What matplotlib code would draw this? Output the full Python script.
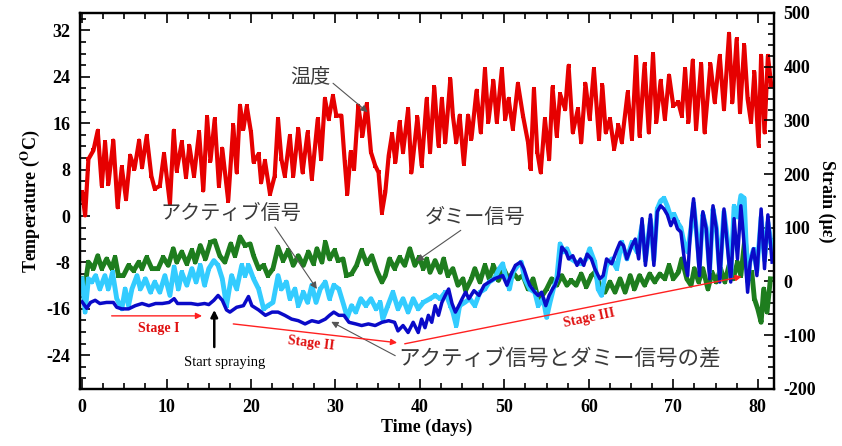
import matplotlib
matplotlib.use("Agg")
import matplotlib.pyplot as plt
from matplotlib.ticker import MultipleLocator

plt.rcParams['mathtext.fontset'] = 'stix'
plt.rcParams['axes.unicode_minus'] = False

# ---------------- data ----------------
temp_day = [0.0, 0.36, 0.75, 1.34, 1.85, 2.33, 2.72, 3.11, 3.7, 4.2, 4.7, 5.2, 5.7, 6.2, 6.75, 7.1, 7.65, 8.2, 8.6, 9.2,
            9.7, 10.4, 10.85, 11.2, 11.8, 12.3, 12.7, 13.25, 13.85, 14.35, 14.8, 15.2, 15.7, 16.2, 16.6, 17.3, 17.9, 18.3,
            18.7, 19.1, 19.5, 20.0, 20.3, 20.9, 21.2, 21.65, 22.25, 22.8, 23.2, 23.6, 24.0, 24.6, 25.0, 25.6, 26.1, 26.7,
            27.2, 27.9, 28.3, 28.75, 29.2, 29.7, 30.1, 30.7, 31.1, 31.4, 31.8, 32.2, 32.7, 33.2, 33.7, 34.2, 34.7, 35.1,
            35.5, 35.9, 36.3, 36.7, 37.1, 37.6, 38.0, 38.6, 39.0, 39.7, 40.2, 40.8, 41.2, 41.7, 42.2, 42.6, 43.0, 43.6,
            43.9, 44.3, 44.7, 45.2, 45.7, 46.1, 46.7, 47.2, 47.7, 48.1, 48.7, 49.1, 49.7, 50.1, 50.5, 51.0, 51.6, 52.2,
            52.8, 53.1, 53.5, 53.9, 54.3, 54.8, 55.3, 55.7, 56.2, 56.6, 57.2, 57.6, 58.1, 58.7, 59.1, 59.6, 60.1, 60.6,
            61.2, 61.6, 62.0, 62.5, 63.0, 63.5, 63.9, 64.6, 65.1, 65.6, 66.0, 66.6, 67.1, 67.6, 68.0, 68.5, 69.0, 69.5,
            70.0, 70.6, 71.0, 71.4, 71.8, 72.3, 72.7, 73.3, 73.7, 74.4, 74.9, 75.5, 76.0, 76.6, 77.0, 77.5, 77.9, 78.4,
            78.8, 79.2, 79.6, 80.1, 80.4, 80.8, 81.2, 81.6]
temp_c = [4.1, 0.1, 9.8, 11.3, 14.7, 5.2, 12.7, 5.5, 13.0, 1.5, 8.4, 2.9, 10.4, 8.1, 13.0, 8.4, 13.8, 6.9, 4.7, 5.2,
          10.7, 2.1, 14.7, 7.8, 12.7, 6.7, 12.1, 6.9, 14.4, 4.4, 17.0, 9.5, 16.7, 5.2, 11.6, 2.6, 15.6, 7.5,
          19.0, 15.0, 18.9, 14.4, 9.3, 10.7, 5.8, 9.5, 3.8, 6.9, 16.7, 9.8, 6.9, 13.8, 6.9, 15.0, 7.5, 14.4,
          6.4, 16.7, 9.8, 20.2, 16.7, 20.7, 17.3, 17.3, 9.3, 3.8, 11.0, 8.1, 19.0, 13.8, 19.3, 11.0, 8.7, 7.5,
          0.6, 4.1, 10.4, 14.1, 9.3, 16.2, 11.0, 18.4, 7.5, 17.0, 8.7, 20.2, 11.0, 22.2, 12.1, 20.2, 12.7, 23.6,
          17.3, 12.7, 17.3, 9.0, 17.3, 13.3, 21.6, 14.4, 25.3, 16.2, 23.3, 16.2, 25.3, 16.7, 20.2, 15.0, 22.8, 17.3,
          12.7, 8.1, 21.9, 11.0, 7.5, 16.7, 9.8, 22.2, 13.8, 21.0, 18.4, 25.9, 14.4, 18.4, 12.7, 22.8, 16.7, 25.3,
          13.3, 22.5, 14.4, 16.7, 11.6, 15.6, 12.7, 21.3, 13.3, 27.4, 13.8, 26.2, 14.4, 27.9, 16.2, 23.3, 16.7, 24.2,
          19.0, 19.6, 17.3, 25.3, 16.2, 26.8, 15.0, 26.2, 14.4, 26.2, 19.6, 27.6, 18.4, 31.4, 19.6, 30.5, 17.9, 29.4,
          20.2, 16.2, 24.8, 12.1, 27.6, 14.4, 27.6, 22.5]

dummy_day = [0.0, 0.36, 0.75, 1.34, 1.85, 2.33, 2.9, 3.5, 3.9, 4.3, 4.9, 5.5, 6.1, 6.7, 7.1, 7.65, 8.25, 9.0, 9.6, 10.2,
             10.8, 11.2, 11.8, 12.4, 13.0, 13.4, 14.0, 14.6, 15.2, 15.7, 16.3, 16.9, 17.6, 18.1, 18.7, 19.3, 19.9, 20.3,
             20.9, 21.5, 22.0, 22.6, 23.2, 23.8, 24.4, 25.0, 25.6, 26.2, 26.8, 27.4, 27.8, 28.4, 28.8, 29.3, 29.9, 30.3,
             30.9, 31.3, 31.9, 32.5, 33.1, 33.7, 34.3, 34.9, 35.5, 35.9, 36.4, 37.0, 37.6, 38.2, 38.8, 39.4, 39.9, 40.4,
             40.8, 41.2, 41.8, 42.4, 42.8, 43.3, 43.9, 44.5, 45.1, 45.4, 46.1, 46.5, 47.1, 47.7, 48.2, 48.7, 49.3, 49.9,
             50.5, 51.0, 51.6, 52.2, 52.8, 53.4, 54.0, 54.5, 55.0, 55.6, 56.2, 56.8, 57.4, 57.9, 58.5, 59.1, 59.7, 60.3,
             60.7, 61.3, 61.9, 62.5, 63.1, 63.7, 64.3, 64.9, 65.4, 66.0, 66.6, 67.2, 67.8, 68.4, 69.0, 69.5, 70.0, 70.6,
             71.0, 71.6, 72.1, 72.5, 73.0, 73.5, 74.1, 74.6, 75.1, 75.6, 76.1, 76.6, 77.1, 77.6, 78.0, 78.5, 78.9, 79.3,
             79.6, 80.0, 80.4, 80.7, 81.1, 81.5]
dummy_strain = [5, -7, 36, 24, 48, 24, 42, 24, 45, 11, 11, 30, 20, 36, 24, 45, 24, 24, 45, 30,
                61, 36, 55, 33, 58, 36, 67, 42, 73, 76, 48, 36, 70, 48, 83, 67, 70, 48,
                24, 30, 11, 24, 64, 39, 58, 30, 48, 30, 55, 33, 61, 36, 73, 42, 58, 39,
                42, 11, 14, 30, 58, 33, 48, 20, -1, 11, 42, 24, 45, 30, 61, 30, 45, 24,
                42, 17, 39, 17, 42, 11, 24, -7, 5, -17, 5, 24, -1, 30, 5, 30, 2, 24,
                5, 17, 5, 11, -14, 5, -32, -26, -14, 5, -7, 11, -7, 2, -7, 14, -10, 11,
                17, -7, -20, -1, -20, 5, -20, 11, -14, 11, -7, 14, -1, 14, 5, 30, 5, 17,
                42, 5, -7, 24, -1, 24, -14, 17, -1, 24, -1, 30, 5, 36, 11, 83, 5, 17,
                -32, -51, -76, -14, -57, 5]

active_day = [0.0, 0.36, 0.75, 1.15, 1.6, 2.1, 2.7, 3.1, 3.6, 4.1, 4.7, 5.1, 5.5, 5.9, 6.5, 6.9, 7.5, 8.1, 8.6, 9.2,
              9.8, 10.4, 10.9, 11.4, 11.8, 12.4, 13.0, 13.5, 14.0, 14.5, 15.0, 15.6, 16.1, 16.6, 17.1, 17.7, 18.3, 18.9,
              19.3, 19.7, 20.3, 20.9, 21.5, 22.0, 22.6, 23.2, 23.6, 24.2, 24.6, 25.2, 25.6, 26.2, 26.7, 27.2, 27.7, 28.2,
              28.8, 29.3, 29.8, 30.4, 31.0, 31.4, 31.9, 32.4, 33.0, 33.6, 34.2, 34.8, 35.3, 35.6, 36.2, 36.8, 37.4, 38.0,
              38.6, 39.2, 39.8, 40.4, 41.2, 41.8, 42.4, 43.0, 43.6, 43.9, 44.3, 44.7, 45.3, 45.9, 46.5, 47.1, 47.7, 48.2,
              48.8, 49.4, 49.8, 50.2, 50.6, 51.0, 51.6, 52.0, 52.4, 53.0, 53.6, 54.0, 54.6, 55.0, 55.4, 55.8, 56.2, 56.6,
              57.0, 57.4, 57.9, 58.5, 59.1, 59.7, 60.1, 60.7, 61.1, 61.5, 62.1, 62.7, 63.3, 63.9, 64.5, 65.1, 65.7, 66.3,
              66.7, 67.3, 67.7, 68.1, 68.5, 68.9, 69.3, 69.7, 70.1, 70.5, 70.9, 71.3, 71.7, 72.1, 72.4, 72.7, 73.1, 73.5,
              73.9, 74.3, 74.7, 75.1, 75.5, 76.0, 76.4, 76.8, 77.2, 77.6, 78.0, 78.4, 78.8, 79.1, 79.5, 79.9, 80.4, 80.8,
              81.2, 81.7]
active_strain = [5, -57, 5, -1, 11, -14, 11, -14, 17, -32, -51, -14, -45, -14, 11, -14, 5, -20, -1, -20,
                 11, -26, 27, -14, 17, -7, 24, -1, 30, -7, 24, 39, 30, 5, -45, 11, -14, 30,
                 11, 30, 5, -14, -51, -45, -39, 11, -14, -1, -32, -14, -45, -20, -39, -7, -39, -14,
                 -1, -32, -7, -14, -45, -67, -45, -57, -32, -45, -32, -51, -39, -70, -45, -20, -51, -32,
                 -57, -32, -51, -39, -32, -26, -32, -20, -45, -57, -82, -45, -39, -32, -45, -20, -14, -1,
                 5, 24, 33, 5, -14, 17, 30, 36, 5, -14, -20, -45, -32, -67, -39, -14, 5, 70,
                 55, 61, 42, 36, 33, 42, 61, 36, -14, -26, 30, 42, 24, 73, 42, 73, 55, 105,
                 40, 115, 40, 135, 150, 155, 140, 120, 125, 110, 100, 70, 55, 100, 145, 100, 30, 125,
                 100, 20, 135, 100, 15, 130, 80, 10, 140, 120, 160, 155, 0, 40, 60, 20, 120, 40,
                 110, 60]

diff_day = [0.0, 0.55, 1.0, 1.55, 2.1, 2.9, 3.7, 4.1, 4.7, 5.5, 6.3, 7.1, 7.9, 8.7, 9.5, 10.3, 10.9, 11.3, 12.1, 12.9,
            13.7, 14.5, 15.0, 15.6, 16.1, 16.6, 17.1, 17.5, 18.3, 19.1, 19.7, 20.1, 20.9, 21.7, 22.5, 23.2, 24.0, 24.8,
            25.6, 26.4, 27.2, 28.0, 28.8, 29.3, 29.8, 30.4, 31.0, 31.6, 32.4, 33.1, 33.9, 34.7, 35.5, 36.3, 37.0, 37.4,
            38.0, 38.6, 39.2, 39.8, 40.2, 40.6, 41.0, 41.4, 41.8, 42.2, 42.6, 43.0, 43.4, 43.8, 44.2, 44.6, 45.0, 45.4,
            45.8, 46.4, 47.0, 47.6, 48.2, 48.8, 49.3, 49.8, 50.3, 50.9, 51.3, 51.9, 52.3, 52.7, 53.0, 53.6, 54.0, 54.4,
            54.9, 55.3, 55.7, 56.0, 56.4, 56.8, 57.3, 57.6, 58.1, 58.6, 59.0, 59.4, 59.8, 60.3, 60.7, 61.3, 61.7, 62.1,
            62.7, 63.3, 63.7, 64.1, 64.5, 65.1, 65.5, 65.9, 66.3, 66.7, 67.3, 67.7, 68.1, 68.5, 68.9, 69.3, 69.7, 70.1,
            70.5, 70.9, 71.3, 71.7, 72.1, 72.4, 72.7, 73.1, 73.5, 73.9, 74.3, 74.7, 75.1, 75.5, 76.0, 76.4, 76.8, 77.2,
            77.6, 78.0, 78.4, 78.8, 79.1, 79.5, 79.9, 80.4, 80.8, 81.2, 81.7]
diff_strain = [-38, -50, -39, -35, -41, -39, -39, -48, -51, -51, -45, -41, -45, -41, -41, -39, -32, -41, -41, -41,
               -43, -41, -43, -35, -26, -35, -53, -57, -48, -45, -28, -45, -53, -63, -57, -57, -63, -70,
               -73, -79, -73, -76, -70, -63, -57, -63, -63, -76, -79, -82, -79, -82, -76, -73, -76, -92,
               -82, -95, -76, -95, -70, -86, -63, -76, -45, -63, -39, -26, -14, -41, -57, -45, -32, -20,
               -32, -17, -26, -7, -1, 5, 8, 11, -7, 17, 30, 36, 24, 5, -7, -20, -26, -20,
               -45, -26, -14, -7, 11, 64, 55, 42, 48, 30, 42, 30, 51, 42, 24, 5, 11, 42,
               33, 58, 73, 67, 42, 67, 79, 42, 117, 30, 124, 30, 130, 141, 135, 124, 104, 117,
               98, 92, 42, 11, 110, 154, 98, 11, 130, 98, 5, 141, 98, -1, 135, 67, -1, 117,
               42, 141, 67, -20, 36, 61, 11, 135, 24, 124, 36]

x_ticks = [0, 10, 20, 30, 40, 50, 60, 70, 80]
temp_ticks = [-24, -16, -8, 0, 8, 16, 24, 32]
strain_ticks = [-200, -100, 0, 100, 200, 300, 400, 500]

# ---------------- figure ----------------
fig = plt.figure(figsize=(8.42, 4.46), dpi=100)
ax = fig.add_axes([0.095, 0.128, 0.824, 0.843])
ax2 = ax.twinx()

RED = '#e60000'
GREEN = '#1e7d1e'
CYAN = '#33ccff'
BLUE = '#0a0ac8'

ax.plot(temp_day, temp_c, color=RED, lw=3.0, marker='s', ms=2.5, mew=0)
ax2.plot(dummy_day, dummy_strain, color=GREEN, lw=3.5, marker='s', ms=2.5, mew=0)
ax2.plot(active_day, active_strain, color=CYAN, lw=3.5, marker='s', ms=2.5, mew=0)
ax2.plot(diff_day, diff_strain, color=BLUE, lw=2.5, marker='s', ms=2, mew=0)

ax.set_xlim(-0.25, 81.9)
ax.set_ylim(-29.8, 35.0)
ax2.set_ylim(-200, 500)

serif_b = dict(family='Liberation Serif', weight='bold')

ax.set_xticks(x_ticks)
ax.set_yticks(temp_ticks)
ax2.set_yticks(strain_ticks)
ax.xaxis.set_minor_locator(MultipleLocator(2.5))
ax.yaxis.set_minor_locator(MultipleLocator(2))
ax2.yaxis.set_minor_locator(MultipleLocator(20))

ax.tick_params(which='both', direction='in', top=True, right=False, width=1.2)
ax.tick_params(which='major', length=7, pad=7)
ax.tick_params(which='minor', length=4)
ax2.tick_params(which='both', direction='in', width=1.2)
ax2.tick_params(which='major', length=7, pad=7)
ax2.tick_params(which='minor', length=4)

for lab in ax.get_xticklabels() + ax.get_yticklabels() + ax2.get_yticklabels():
    lab.set_fontfamily('Liberation Serif')
    lab.set_fontweight('bold')
    lab.set_fontsize(13)

for a in (ax, ax2):
    for s in a.spines.values():
        s.set_linewidth(1.6)

ax.set_xlabel('Time (days)', fontsize=13, labelpad=2, **serif_b)
ax.set_ylabel(r'Temperature ($\mathbf{^{O}}$C)', fontsize=13, labelpad=3, **serif_b)
ax2.set_ylabel('Strain (με)', fontsize=13, rotation=270, labelpad=14, **serif_b)

# ---------------- annotations ----------------
jp = ['Noto Sans CJK JP', 'DejaVu Sans']
jcol = '#3a3a3a'
arr_gray = dict(arrowstyle='-|>', color='#555555', lw=0.8, mutation_scale=10, shrinkA=0, shrinkB=0)

ax.annotate('温度', xy=(33.8, 17.9), xytext=(27.0, 24.0), fontsize=14.5, family=jp, color=jcol,
            ha='center', va='center', arrowprops=dict(arr_gray, relpos=(1.0, 0.3)))
ax2.annotate('アクティブ信号', xy=(27.8, -14), xytext=(17.6, 126), fontsize=14.5, family=jp, color=jcol,
             ha='center', va='center', arrowprops=dict(arr_gray, relpos=(0.8, 0.0)))
ax2.annotate('ダミー信号', xy=(39.6, 38), xytext=(46.5, 120), fontsize=14.5, family=jp, color=jcol,
             ha='center', va='center', arrowprops=dict(arr_gray, relpos=(0.4, 0.0)))
ax2.annotate('アクティブ信号とダミー信号の差', xy=(29.5, -75), xytext=(56.5, -145), fontsize=15.5, family=jp,
             color=jcol, ha='center', va='center', arrowprops=dict(arr_gray, relpos=(0.0, 0.6)))

red_arr = dict(arrowstyle='-|>', color='#ff2020', lw=1.0, mutation_scale=9, shrinkA=0, shrinkB=0)
ax2.annotate('', xy=(14.2, -64), xytext=(3.5, -64), arrowprops=red_arr)
ax2.text(9.1, -88, 'Stage I', color='#e01010', fontsize=10, ha='center', va='center', **serif_b)
ax2.annotate('', xy=(37.3, -114), xytext=(17.9, -79), arrowprops=red_arr)
ax2.text(27.1, -116, 'Stage II', color='#e01010', fontsize=10, ha='center', va='center', rotation=-7, **serif_b)
ax2.annotate('', xy=(78.1, 9), xytext=(38.2, -116), arrowprops=red_arr)
ax2.text(60.1, -69, 'Stage III', color='#e01010', fontsize=10, ha='center', va='center', rotation=12, **serif_b)

ax2.annotate('', xy=(15.65, -53), xytext=(15.65, -122),
             arrowprops=dict(arrowstyle='-|>', color='black', lw=1.8, mutation_scale=10, shrinkA=0, shrinkB=0))
ax2.text(16.9, -150, 'Start spraying', color='black', fontsize=10.5, ha='center', va='center',
         family='Liberation Serif')

fig.savefig('out.png', dpi=100)
